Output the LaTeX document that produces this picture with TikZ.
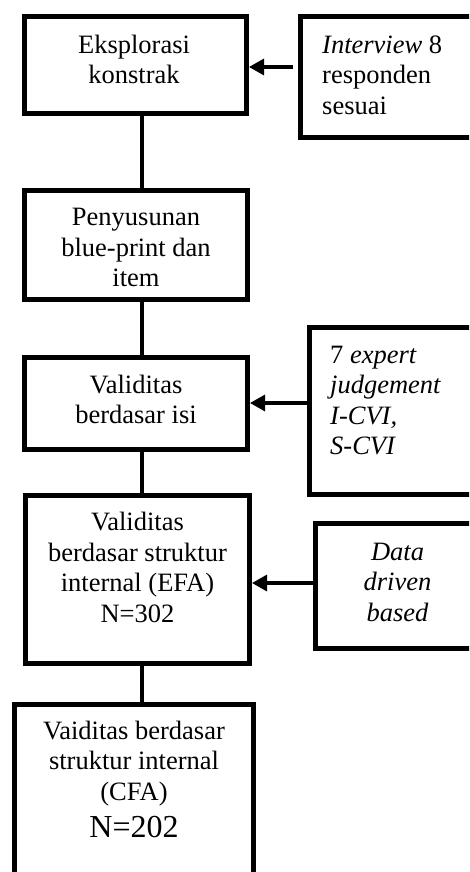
\documentclass[tikz,border=0pt]{standalone}
\usepackage{fontspec}
\setmainfont{Liberation Serif}
\usetikzlibrary{arrows.meta}
\begin{document}
\begin{tikzpicture}[x=1pt,y=-1pt,
  box/.style={draw=black,line width=5pt,inner sep=0pt},
  txt/.style={inner sep=0pt,anchor=base,font=\fontsize{26.5}{30.5}\selectfont},
  ltxt/.style={txt,anchor=base west},
  conn/.style={draw=black,line width=3.2pt},
  arr/.style={conn,-{Triangle[length=15pt,width=16pt]}}]
\useasboundingbox (0,0) rectangle (469,872);
\fill[white] (0,0) rectangle (469,872);
\begin{scope}
\clip (0,0) rectangle (469,872);
% left column boxes
\node[box,minimum width=222.5pt,minimum height=97pt] (b1) at (135.25,65.5) {};
\node[box,minimum width=223pt,minimum height=109.5pt] (b2) at (136,244.75) {};
\node[box,minimum width=223pt,minimum height=92pt] (b3) at (136,403) {};
\node[box,minimum width=224.5pt,minimum height=167.5pt] (b4) at (137.25,579.25) {};
\node[box,minimum width=239pt,minimum height=216pt] (b5) at (134,812) {};
% right column boxes
\node[box,minimum width=199.5pt,minimum height=120pt] (r1) at (400.25,77) {};
\node[box,minimum width=191pt,minimum height=167pt] (r2) at (404.5,411) {};
\node[box,minimum width=185pt,minimum height=125pt] (r3) at (407.5,585.5) {};
% texts
\node[txt] (t1) at (134,53.3) {\begin{tabular}[t]{@{}c@{}}Eksplorasi\\konstrak\end{tabular}};
\node[txt] (t2) at (136,225.9) {\begin{tabular}[t]{@{}c@{}}Penyusunan\\blue-print dan\\item\end{tabular}};
\node[txt] (t3) at (136,393.3) {\begin{tabular}[t]{@{}c@{}}Validitas\\berdasar isi\end{tabular}};
\node[txt] (t4) at (137.5,530.7) {\begin{tabular}[t]{@{}c@{}}Validitas\\berdasar struktur\\internal (EFA)\\N=302\end{tabular}};
\node[txt] (t5) at (134,739.3) {\begin{tabular}[t]{@{}c@{}}Vaiditas berdasar\\struktur internal\\(CFA)\\[6.2pt]{\fontsize{32}{36}\selectfont N=202}\end{tabular}};
\node[ltxt] (s1) at (322,53.3) {\begin{tabular}[t]{@{}l@{}}\textit{Interview} 8\\responden\\sesuai\end{tabular}};
\node[ltxt] (s2) at (330,363.3) {\begin{tabular}[t]{@{}l@{}}7 \textit{expert}\\\textit{judgement}\\\textit{I-CVI,}\\\textit{S-CVI}\end{tabular}};
\node[txt] (s3) at (397.5,560) {\begin{tabular}[t]{@{}c@{}}\textit{Data}\\\textit{driven}\\\textit{based}\end{tabular}};
% connectors
\coordinate (vx) at (142,0);
\draw[conn] (vx |- b1.south) -- (vx |- b2.north);
\draw[conn] (vx |- b2.south) -- (vx |- b3.north);
\draw[conn] (vx |- b3.south) -- (vx |- b4.north);
\draw[conn] (vx |- b4.south) -- (vx |- b5.north);
\coordinate (a1) at (0,67);
\coordinate (a2) at (0,403);
\coordinate (a3) at (0,583);
\draw[arr,shorten <=5pt] (r1.west |- a1) -- (b1.east |- a1);
\draw[arr] (r2.west |- a2) -- (b3.east |- a2);
\draw[arr] (r3.west |- a3) -- (b4.east |- a3);
\end{scope}
\end{tikzpicture}
\end{document}
